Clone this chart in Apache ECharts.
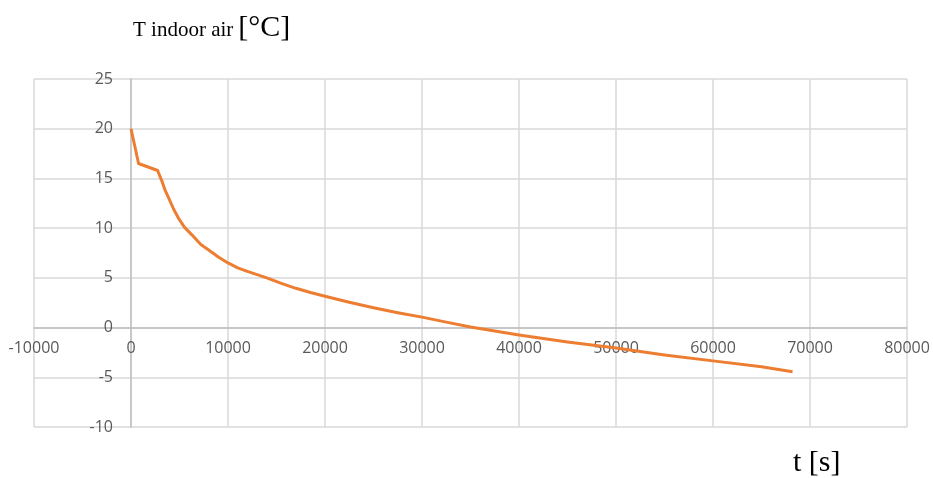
<!DOCTYPE html>
<html>
<head>
<meta charset="utf-8">
<script src="https://cdn.jsdelivr.net/npm/echarts@6/dist/echarts.min.js"></script>
<style>
  html, body { margin: 0; padding: 0; background: #ffffff; }
  #chart { width: 933px; height: 478px; }
</style>
</head>
<body>
<div id="chart"></div>
<script>
// Indoor air temperature during cooling, time in seconds
const timeSeconds = [0, 780, 2740, 3200, 3500, 3900, 4400, 4900, 5500, 6300, 7200, 8300, 9000,
  10000, 11000, 12000, 14000, 15500, 17000, 18500, 20000, 22500, 25000, 27500, 30000, 32500,
  35000, 40000, 45000, 50000, 55000, 60000, 65000, 68200];
const indoorTemp = [20, 16.5, 15.8, 14.7, 13.85, 13.0, 11.9, 11.0, 10.1, 9.3, 8.35, 7.6, 7.1,
  6.5, 6.0, 5.65, 5.0, 4.45, 3.95, 3.53, 3.15, 2.55, 2.0, 1.5, 1.05, 0.55,
  0.05, -0.75, -1.45, -2.05, -2.75, -3.35, -3.95, -4.45];

const xTicks = { min: -10000, max: 80000, step: 10000 };
const yTicks = { min: -10, max: 25, step: 5 };

const yTitle = 'T indoor air';
const yUnit = '[°C]';
const xTitle = 't [s]';

const points = timeSeconds.map((t, i) => [t, indoorTemp[i]]);

// Plot rectangle
const gridLeft = 34, gridRight = 26, gridTop = 79, gridBottom = 51;
const W = 933, H = 478;
const plotW = W - gridLeft - gridRight;
const plotH = H - gridTop - gridBottom;
// Both axes cross at the origin: shift them in from the plot edges
const yAxisShift = -plotW * (0 - xTicks.min) / (xTicks.max - xTicks.min);
const xAxisShift = -plotH * (0 - yTicks.min) / (yTicks.max - yTicks.min);

const chart = echarts.init(document.getElementById('chart'), null, { renderer: 'canvas' });

const labelFont = { fontFamily: 'Open Sans', fontSize: 16, color: '#595959' };
const plain = v => String(v);

chart.setOption({
  animation: false,
  backgroundColor: '#ffffff',
  grid: { left: gridLeft, right: gridRight, top: gridTop, bottom: gridBottom, containLabel: false },
  title: [
    {
      text: '{a|' + yTitle + '} {b|' + yUnit + '}',
      left: 128, top: 8,
      textStyle: {
        fontWeight: 'normal',
        rich: {
          a: { fontFamily: 'Liberation Serif', fontSize: 21, fontWeight: 'normal', color: '#000', verticalAlign: 'bottom', padding: [0, 0, 2, 0] },
          b: { fontFamily: 'Liberation Serif', fontSize: 30, fontWeight: 'normal', color: '#000', verticalAlign: 'bottom' }
        }
      }
    },
    {
      text: xTitle,
      left: 788, top: 443,
      textStyle: { fontFamily: 'Liberation Serif', fontSize: 30, fontWeight: 'normal', color: '#000' }
    }
  ],
  xAxis: {
    type: 'value',
    min: xTicks.min, max: xTicks.max, interval: xTicks.step,
    offset: xAxisShift,
    axisLine: { show: true, onZero: false, lineStyle: { color: '#bfbfbf', width: 1.5 } },
    axisTick: { show: false },
    axisLabel: Object.assign({ margin: 13, formatter: plain, showMinLabel: true, showMaxLabel: true }, labelFont),
    splitLine: { show: true, lineStyle: { color: '#d9d9d9', width: 1.5 } }
  },
  yAxis: {
    type: 'value',
    min: yTicks.min, max: yTicks.max, interval: yTicks.step,
    offset: yAxisShift,
    axisLine: { show: true, onZero: false, lineStyle: { color: '#bfbfbf', width: 1.5 } },
    axisTick: { show: false },
    axisLabel: Object.assign({ margin: 18, formatter: plain }, labelFont),
    splitLine: { show: true, lineStyle: { color: '#d9d9d9', width: 1.5 } }
  },
  series: [{
    type: 'line',
    data: points,
    showSymbol: false,
    smooth: false,
    lineStyle: { color: '#ED7D31', width: 3, join: 'round' },
    z: 5
  }]
});
</script>
</body>
</html>
